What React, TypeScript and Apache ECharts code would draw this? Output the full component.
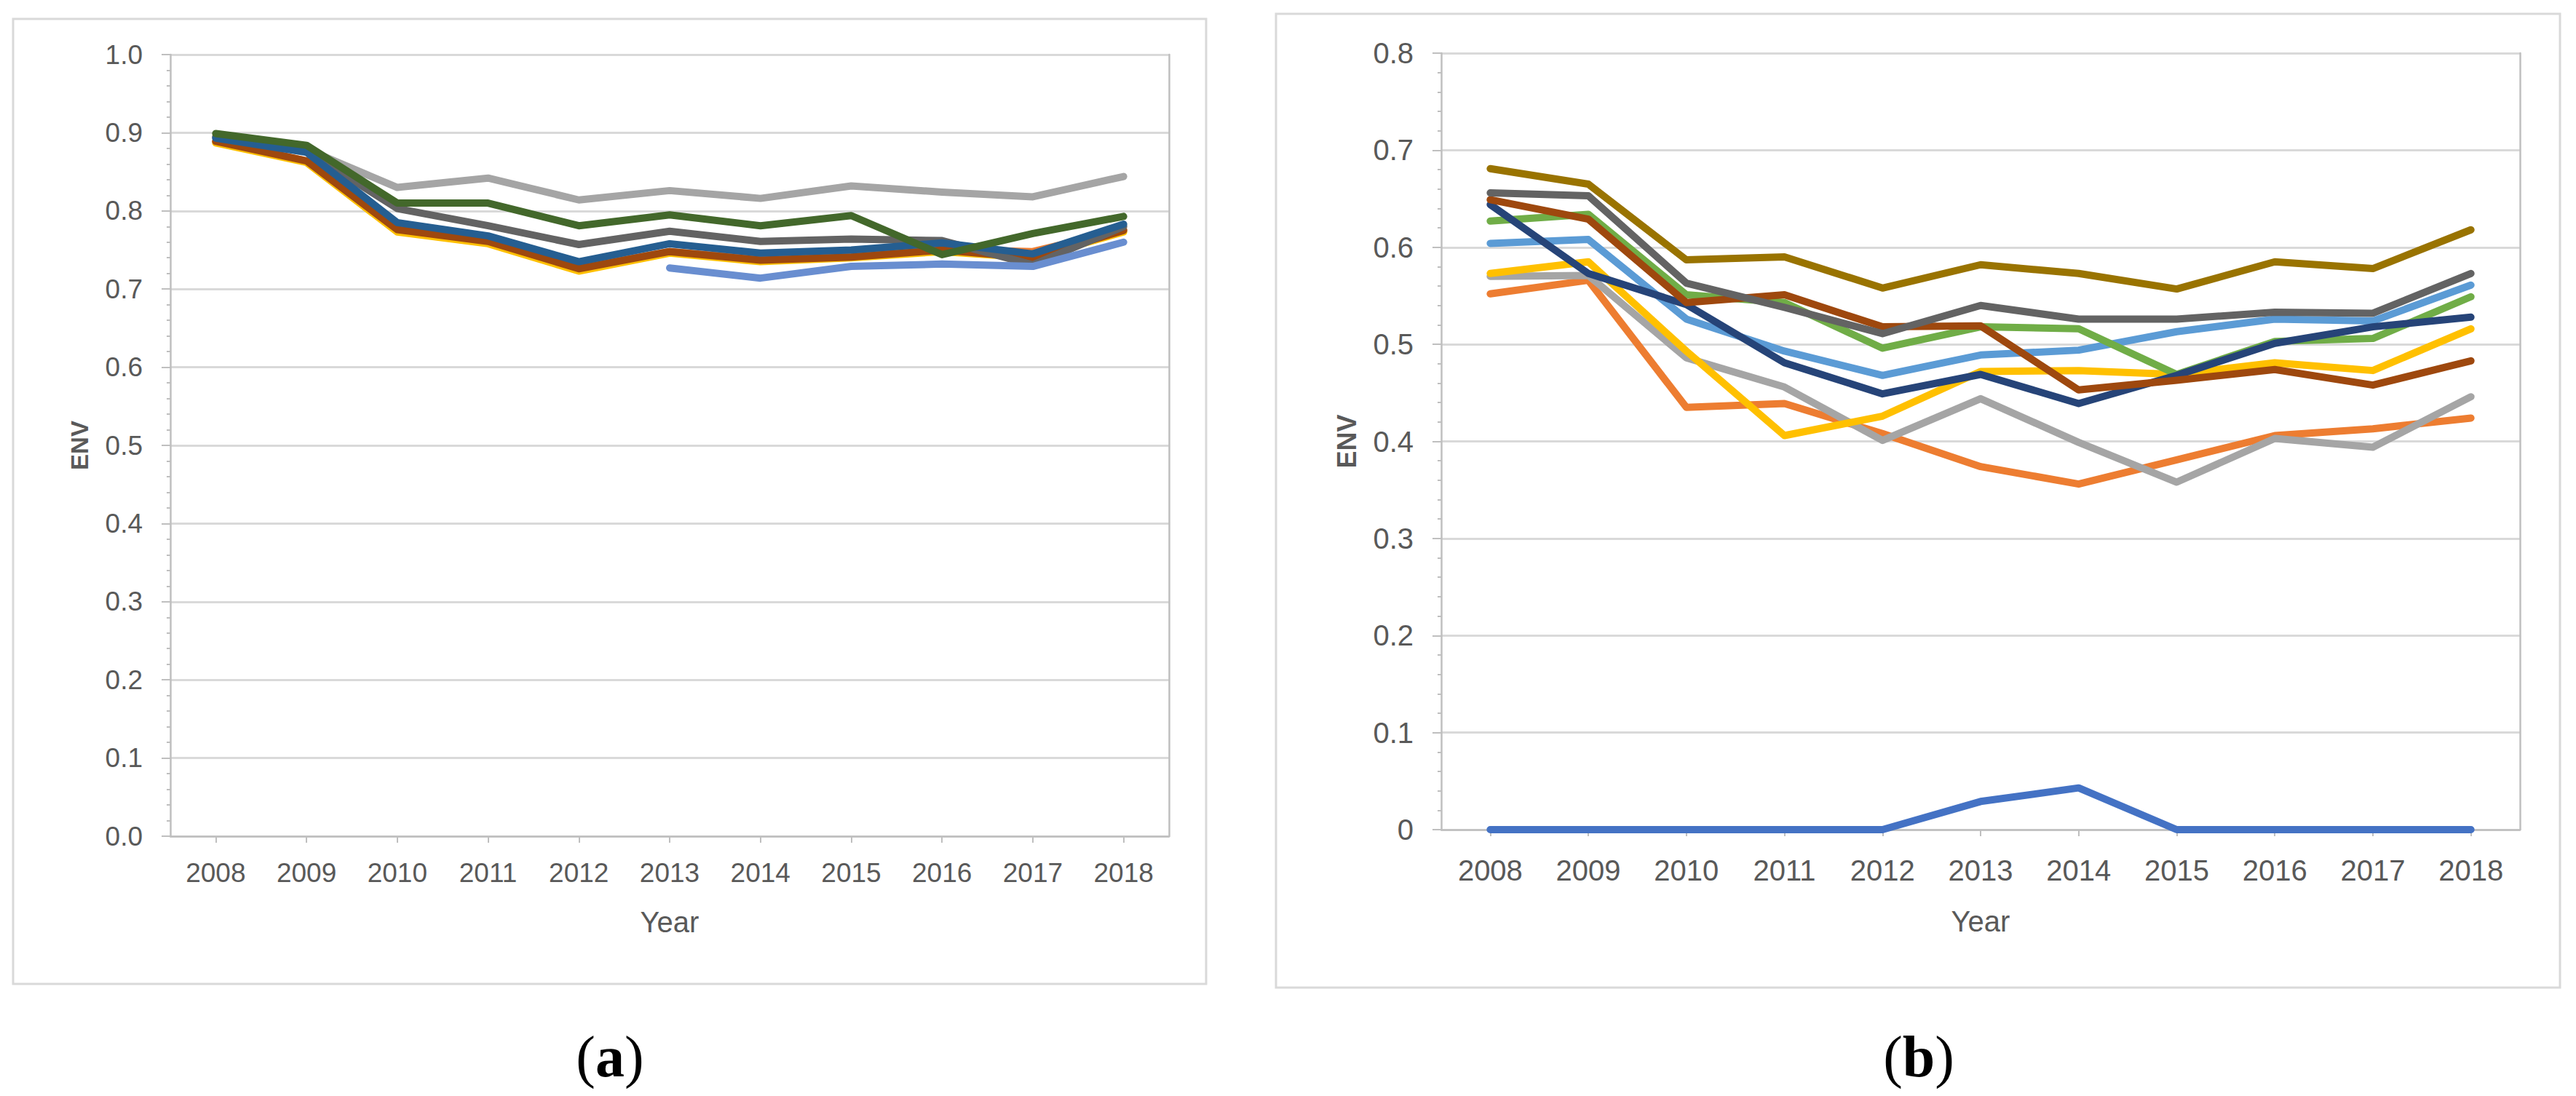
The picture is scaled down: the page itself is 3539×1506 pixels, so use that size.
import React, { useEffect, useRef } from "react";
import * as echarts from "echarts";

const years = ["2008", "2009", "2010", "2011", "2012", "2013", "2014", "2015", "2016", "2017", "2018"];

// Panel (a)
const aOrange = [0.889, 0.864, 0.776, 0.761, 0.727, 0.748, 0.738, 0.742, 0.751, 0.748, 0.776];
const aLightGray = [0.894, 0.879, 0.830, 0.842, 0.814, 0.826, 0.816, 0.832, 0.824, 0.818, 0.844];
const aYellow = [0.887, 0.862, 0.773, 0.758, 0.723, 0.746, 0.735, 0.740, 0.748, 0.740, 0.773];
const aBrown = [0.889, 0.864, 0.776, 0.761, 0.726, 0.748, 0.737, 0.741, 0.750, 0.740, 0.775];
const aDarkGray = [0.895, 0.877, 0.803, 0.781, 0.757, 0.774, 0.761, 0.764, 0.762, 0.731, 0.780];
const aBlue = [0.893, 0.875, 0.785, 0.768, 0.735, 0.758, 0.746, 0.750, 0.759, 0.745, 0.783];
const aDarkGreen = [0.899, 0.884, 0.810, 0.810, 0.781, 0.795, 0.781, 0.794, 0.744, 0.771, 0.793];
const aLightBlue = [null, null, null, null, null, 0.727, 0.714, 0.729, 0.732, 0.729, 0.760];

// Panel (b)
const bBlue = [0, 0, 0, 0, 0, 0.029, 0.043, 0, 0, 0, 0];
const bOrange = [0.552, 0.566, 0.435, 0.439, 0.408, 0.374, 0.356, 0.381, 0.406, 0.413, 0.424];
const bGray = [0.570, 0.571, 0.486, 0.456, 0.401, 0.444, 0.399, 0.358, 0.403, 0.394, 0.446];
const bYellow = [0.573, 0.585, 0.493, 0.406, 0.426, 0.472, 0.473, 0.469, 0.481, 0.473, 0.516];
const bLightBlue = [0.604, 0.608, 0.526, 0.493, 0.468, 0.489, 0.494, 0.513, 0.526, 0.524, 0.561];
const bGreen = [0.627, 0.634, 0.551, 0.543, 0.496, 0.518, 0.516, 0.469, 0.503, 0.506, 0.549];
const bNavy = [0.644, 0.573, 0.541, 0.481, 0.449, 0.469, 0.439, 0.468, 0.501, 0.518, 0.528];
const bBrown = [0.649, 0.629, 0.543, 0.551, 0.518, 0.519, 0.453, 0.463, 0.474, 0.458, 0.483];
const bDarkGray = [0.656, 0.653, 0.563, 0.538, 0.511, 0.540, 0.526, 0.526, 0.533, 0.532, 0.573];
const bOlive = [0.681, 0.665, 0.587, 0.590, 0.558, 0.582, 0.573, 0.557, 0.585, 0.578, 0.618];

const FONT = "Liberation Sans, Arial, sans-serif";
const TXT = "#595959";
const AXIS = "#bfbfbf";
const GRID = "#d9d9d9";

function line(name: string, data: (number | null)[], color: string, grid: number) {
  return {
    name,
    type: "line",
    xAxisIndex: grid,
    yAxisIndex: grid * 2,
    data,
    showSymbol: false,
    symbol: "none",
    connectNulls: false,
    lineStyle: { color, width: 10, cap: "round", join: "round" },
    itemStyle: { color },
    z: 3,
  };
}

function xAxis(grid: number, fontSize: number, margin: number, nameGap: number) {
  return {
    type: "category",
    gridIndex: grid,
    data: years,
    boundaryGap: true,
    axisLine: { show: true, lineStyle: { color: AXIS, width: 2.5 } },
    axisTick: { show: true, alignWithLabel: true, length: 9, lineStyle: { color: AXIS, width: 2 } },
    axisLabel: { fontSize, color: TXT, margin, fontFamily: FONT },
    splitLine: { show: false },
    name: "Year",
    nameLocation: "middle",
    nameGap,
    nameTextStyle: { fontSize: 40, color: TXT, fontFamily: FONT },
  };
}

function yAxis(grid: number, max: number, fontSize: number, fmt: (v: number) => string, nameGap: number, nameSize: number) {
  return {
    type: "value",
    gridIndex: grid,
    min: 0,
    max,
    interval: 0.1,
    axisLine: { show: true, lineStyle: { color: AXIS, width: 2.5 } },
    axisTick: { show: true, length: 12, lineStyle: { color: AXIS, width: 2 } },
    minorTick: { show: true, splitNumber: 5, length: 5, lineStyle: { color: AXIS, width: 2 } },
    axisLabel: { fontSize, color: TXT, margin: 38, fontFamily: FONT, formatter: fmt },
    splitLine: { show: true, lineStyle: { color: GRID, width: 3 } },
    name: "ENV",
    nameLocation: "middle",
    nameGap,
    nameRotate: 90,
    nameTextStyle: { fontSize: nameSize, color: TXT, fontFamily: FONT, fontWeight: "bold" },
  };
}

function borderAxis(grid: number, max: number) {
  return {
    type: "value",
    gridIndex: grid,
    position: "right",
    min: 0,
    max,
    interval: 0.1,
    axisLine: { show: true, lineStyle: { color: AXIS, width: 2.5 } },
    axisTick: { show: false },
    axisLabel: { show: false },
    splitLine: { show: false },
  };
}

export default function App() {
  const ref = useRef<HTMLDivElement>(null);
  useEffect(() => {
    if (!ref.current) return;
    const chart = echarts.init(ref.current, null, { renderer: "svg" });
    chart.setOption({
      animation: false,
      backgroundColor: "#ffffff",
      grid: [
        { left: 234, top: 75, width: 1372, height: 1074 },
        { left: 1980, top: 73, width: 1482, height: 1067 },
      ],
      xAxis: [xAxis(0, 37, 32, 98), xAxis(1, 40, 36, 106)],
      yAxis: [
        yAxis(0, 1, 37, (v: number) => v.toFixed(1), 108, 33),
        borderAxis(0, 1),
        yAxis(1, 0.8, 40, (v: number) => (v === 0 ? "0" : v.toFixed(1)), 112, 36),
        borderAxis(1, 0.8),
      ],
      series: [
        line("a-orange", aOrange, "#ED7D31", 0),
        line("a-lightgray", aLightGray, "#A5A5A5", 0),
        line("a-yellow", aYellow, "#FFC000", 0),
        line("a-brown", aBrown, "#9E480E", 0),
        line("a-darkgray", aDarkGray, "#636363", 0),
        line("a-blue", aBlue, "#255E91", 0),
        line("a-darkgreen", aDarkGreen, "#43682B", 0),
        line("a-lightblue", aLightBlue, "#698ED0", 0),
        line("b-blue", bBlue, "#4472C4", 1),
        line("b-orange", bOrange, "#ED7D31", 1),
        line("b-gray", bGray, "#A5A5A5", 1),
        line("b-yellow", bYellow, "#FFC000", 1),
        line("b-lightblue", bLightBlue, "#5B9BD5", 1),
        line("b-green", bGreen, "#70AD47", 1),
        line("b-navy", bNavy, "#264478", 1),
        line("b-brown", bBrown, "#9E480E", 1),
        line("b-darkgray", bDarkGray, "#636363", 1),
        line("b-olive", bOlive, "#997300", 1),
      ],
      graphic: [
        { type: "rect", shape: { x: 18, y: 26, width: 1639, height: 1326 }, style: { fill: "none", stroke: GRID, lineWidth: 3 }, silent: true },
        { type: "rect", shape: { x: 1753, y: 19, width: 1764, height: 1338 }, style: { fill: "none", stroke: GRID, lineWidth: 3 }, silent: true },
        {
          type: "text",
          x: 838,
          y: 1452,
          style: {
            text: "{p|(}{b|a}{p|)}",
            align: "center",
            verticalAlign: "middle",
            rich: {
              p: { fontFamily: "Liberation Serif, Times New Roman, serif", fontSize: 80, fill: "#000" },
              b: { fontFamily: "Liberation Serif, Times New Roman, serif", fontSize: 80, fontWeight: "bold", fill: "#000" },
            },
          },
        },
        {
          type: "text",
          x: 2636,
          y: 1452,
          style: {
            text: "{p|(}{b|b}{p|)}",
            align: "center",
            verticalAlign: "middle",
            rich: {
              p: { fontFamily: "Liberation Serif, Times New Roman, serif", fontSize: 80, fill: "#000" },
              b: { fontFamily: "Liberation Serif, Times New Roman, serif", fontSize: 80, fontWeight: "bold", fill: "#000" },
            },
          },
        },
      ],
    });
    return () => chart.dispose();
  }, []);
  return <div ref={ref} style={{ position: "absolute", left: 0, top: 0, width: 3539, height: 1506, background: "#fff" }} />;
}
